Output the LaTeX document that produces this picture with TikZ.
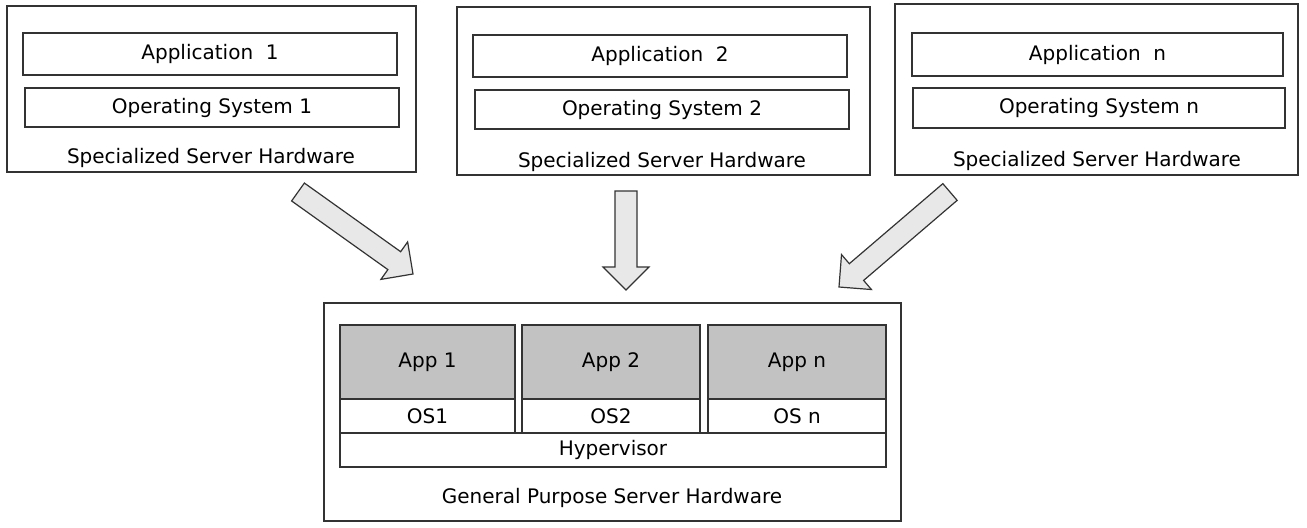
\documentclass[tikz,border=0pt]{standalone}
\usepackage{fontspec}
\setmainfont{DejaVu Sans}
\usetikzlibrary{calc,fit}

\tikzset{
  frame/.style={draw=black!80, line width=0.6pt, inner sep=0pt, fill=white},
  layer/.style={draw=black!80, line width=0.6pt, inner sep=0pt, fill=white},
  applayer/.style={layer, fill=black!24},
  lbl/.style={font=\fontsize{10pt}{12pt}\selectfont, text=black, inner sep=0pt},
  blockarrow/.style={draw=black!80, line width=0.6pt, fill=black!9, line join=miter},
}

% block arrow from #1 to #2: half shaft width, half head width, head length
\newcommand\blockarrow[2]{%
  \coordinate (h-#1) at ($(#2)!11.5pt!(#1)$);
  \draw[blockarrow]
    ($(#1)!5.5pt!90:(#2)$) -- ($(h-#1)!5.5pt!90:(#2)$) --
    ($(h-#1)!11.5pt!90:(#2)$) -- (#2) --
    ($(h-#1)!11.5pt!-90:(#2)$) -- ($(h-#1)!5.5pt!-90:(#2)$) --
    ($(#1)!5.5pt!-90:(#2)$) -- cycle;
}

\begin{document}
\begin{tikzpicture}[x=0.5pt, y=-0.5pt]
\useasboundingbox (0,0) rectangle (1307,527);

% three dedicated servers
\node[frame, fit={(7,6) (416,172)}] (hw1) {};
\node[layer, fit={(23,33) (397,75)}] (app1) {};
\node[layer, fit={(25,88) (399,127)}] (os1) {};
\node[lbl] at (app1.center) {Application\ \ 1};
\node[lbl] at (os1.center) {Operating System 1};
\node[lbl] (hw1l) at (211,158) {Specialized Server Hardware};

\node[frame, fit={(457,7) (870,175)}] (hw2) {};
\node[layer, fit={(473,35) (847,77)}] (app2) {};
\node[layer, fit={(475,90) (849,129)}] (os2) {};
\node[lbl] at (app2.center) {Application\ \ 2};
\node[lbl] at (os2.center) {Operating System 2};
\node[lbl] (hw2l) at (662,162) {Specialized Server Hardware};

\node[frame, fit={(895,4) (1298,175)}] (hw3) {};
\node[layer, fit={(912,33) (1283,76)}] (app3) {};
\node[layer, fit={(913,88) (1285,128)}] (os3) {};
\node[lbl] at (app3.center) {Application\ \ n};
\node[lbl] at (os3.center) {Operating System n};
\node[lbl] (hw3l) at (1097,161) {Specialized Server Hardware};

% consolidated server
\node[frame, fit={(324,303) (901,521)}] (gp) {};
\node[applayer, fit={(340,325) (515,399)}] (va1) {};
\node[applayer, fit={(522,325) (700,399)}] (va2) {};
\node[applayer, fit={(708,325) (886,399)}] (va3) {};
\node[layer, fit={(340,399) (515,433)}] (vo1) {};
\node[layer, fit={(522,399) (700,433)}] (vo2) {};
\node[layer, fit={(708,399) (886,433)}] (vo3) {};
\node[layer, fit={(340,433) (886,467)}] (hyp) {};
\node[lbl] at (va1.center) {App 1};
\node[lbl] at (va2.center) {App 2};
\node[lbl] at (va3.center) {App n};
\node[lbl] at (vo1.center) {OS1};
\node[lbl] at (vo2.center) {OS2};
\node[lbl] at (vo3.center) {OS n};
\node[lbl] at (hyp.center) {Hypervisor};
\node[lbl] (gpl) at (612,498) {General Purpose Server Hardware};

% migration arrows
\coordinate (s1) at (298,192);
\coordinate (e1) at (413,274);
\coordinate (s2) at (626,191);
\coordinate (e2) at (626,290);
\coordinate (s3) at (950,192);
\coordinate (e3) at (839,287);
\blockarrow{s1}{e1}
\blockarrow{s2}{e2}
\blockarrow{s3}{e3}
\end{tikzpicture}
\end{document}
